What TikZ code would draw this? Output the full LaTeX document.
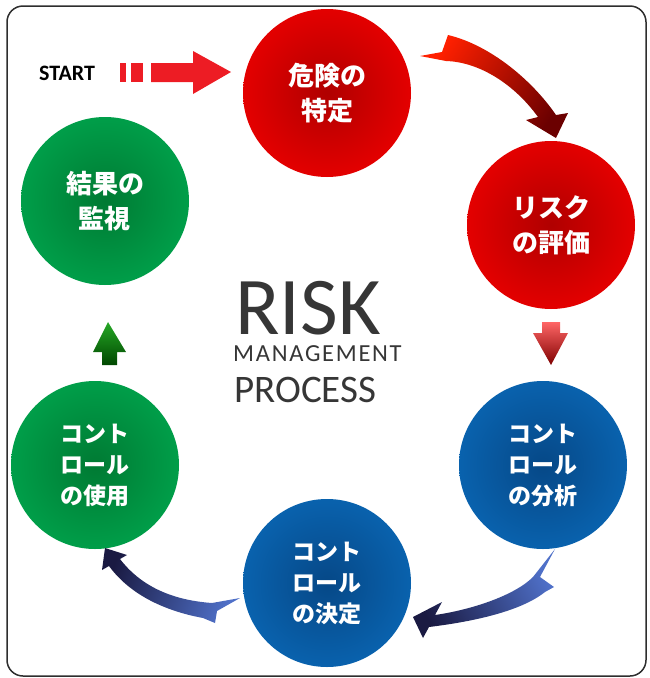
\documentclass[tikz,border=0pt]{standalone}
\usepackage{fontspec}
\setmainfont{Carlito}
\newfontfamily\jpfont{Noto Sans CJK JP}

\definecolor{startred}{HTML}{ED1C24}
\definecolor{txtgray}{HTML}{363636}
\definecolor{redin}{HTML}{B00000}
\definecolor{redout}{HTML}{F20000}
\definecolor{greenin}{HTML}{007A33}
\definecolor{greenout}{HTML}{00A84F}
\definecolor{bluein}{HTML}{064887}
\definecolor{blueout}{HTML}{0A69B8}
\definecolor{arrowlight}{HTML}{4F70C8}
\definecolor{arrowdark}{HTML}{1A1A42}

% balls: dark centre, bright rim
\pgfdeclareradialshading{redball}{\pgfpoint{0bp}{0bp}}{color(0bp)=(redin); color(32bp)=(redout); color(50bp)=(redout)}
\pgfdeclareradialshading{greenball}{\pgfpoint{0bp}{0bp}}{color(0bp)=(greenin); color(32bp)=(greenout); color(50bp)=(greenout)}
\pgfdeclareradialshading{blueball}{\pgfpoint{0bp}{0bp}}{color(0bp)=(bluein); color(32bp)=(blueout); color(50bp)=(blueout)}

\begin{document}
\begin{tikzpicture}[x=1pt, y=-1pt]
\tikzset{ball/.style={circle, shade, minimum size=168pt, inner sep=0pt, text=white, align=center,
    font=\jpfont\bfseries\fontsize{26}{35}\selectfont},
  threeline/.style={font=\jpfont\bfseries\fontsize{23}{31}\selectfont},
  label/.style={anchor=base west, inner sep=0pt, text=txtgray}}
\useasboundingbox (0,0) rectangle (649,678);
\draw[rounded corners=16pt, line width=1.5pt, black!82] (7,6) rectangle (646,676);

\node[ball, shading=redball] (ident) at (327,93) {危険の\\特定};
\node[ball, shading=redball] (eval) at (551,225) {リスク\\の評価};
\node[ball, threeline, shading=blueball] (anal) at (543,465) {コント\\ロール\\の分析};
\node[ball, threeline, shading=blueball] (decide) at (327,583) {コント\\ロール\\の決定};
\node[ball, threeline, shading=greenball] (use) at (95,465) {コント\\ロール\\の使用};
\node[ball, shading=greenball] (watch) at (105,201) {結果の\\監視};

% start marker
\node[label, text=black, font=\bfseries\fontsize{22}{22}\selectfont] (start) at (39,80) {START};
\fill[startred] (120,63) rectangle (126,82);
\fill[startred] (131,63) rectangle (143,82);
\fill[startred] (151,63) -- (193,63) -- (193,51) -- (231,72) -- (193,94) -- (193,82) -- (151,82) -- cycle;

% curved arrows round the cycle
\shade[top color=red!75!orange, middle color=red!88!black, bottom color=red!42!black, shading angle=57]
  (420,56) -- (442,52) -- (448,35) .. controls (490,45) and (532,80) .. (556,115)
  -- (568,113) -- (556,138) -- (526,120) -- (538,117)
  .. controls (515,85) and (480,62) .. (446,61) -- cycle;
\shade[top color=red!60!white, middle color=red!90!black, bottom color=red!50!black]
  (542,322) -- (560,322) -- (560,333) -- (568,333) -- (551,365) -- (533,333) -- (542,333) -- cycle;
\shade[top color=arrowlight, bottom color=arrowdark, shading angle=-62]
  (555,549) -- (540,577) -- (554,587) -- (545,592)
  .. controls (520,612) and (470,622) .. (429,627)
  -- (423,638) -- (413,617) -- (442,602) -- (435,615)
  .. controls (470,610) and (514,596) .. (533,577) -- cycle;
\shade[top color=arrowlight, bottom color=arrowdark, shading angle=-110]
  (240,598) -- (217,611) -- (215,623) -- (203,618)
  .. controls (160,610) and (128,592) .. (109,566)
  -- (102,570) -- (105,548) -- (127,555) -- (120,559)
  .. controls (140,585) and (170,600) .. (212,603) -- cycle;
\shade[top color=green!60!black!85!white, bottom color=green!28!black]
  (102,365) -- (117,365) -- (117,352) -- (126,352) -- (108,322) -- (93,352) -- (102,352) -- cycle;

% title in the middle
\node[label, font=\fontsize{82}{82}\selectfont] (risk) at (235,334) {RISK};
\node[label, font=\fontsize{24.5}{24.5}\selectfont\addfontfeature{LetterSpace=7}] (mgmt) at (233,361) {MANAGEMENT};
\node[label, font=\fontsize{39}{39}\selectfont] (proc) at (234,402) {PROCESS};
\end{tikzpicture}
\end{document}
